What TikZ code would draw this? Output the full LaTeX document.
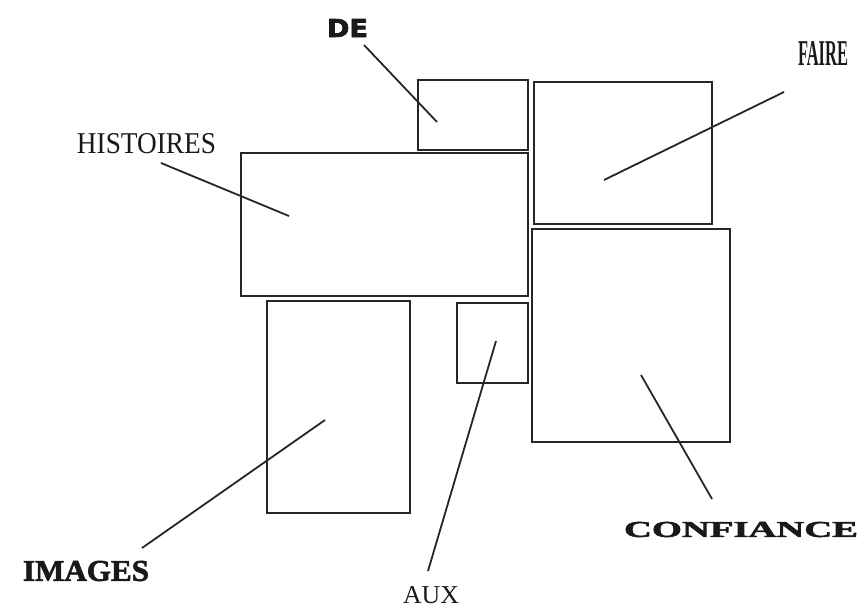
\documentclass[tikz,border=0pt]{standalone}
\usepackage{fontspec}
\setmainfont{Liberation Serif}
\newfontfamily\desans{DejaVu Sans}[BoldFeatures={FakeBold=2.5}]
\newfontfamily\heavyserif{Liberation Serif}[BoldFeatures={FakeBold=2}]
\begin{document}
\begin{tikzpicture}[x=1pt,y=-1pt,
  box/.style={draw=black!85, line width=2pt, inner sep=0pt, minimum width=#1},
  lead/.style={draw=black!85, line width=1.8pt},
  lbl/.style={inner sep=0pt, anchor=center, text=black!90}]
\useasboundingbox (0,0) rectangle (865,608);
% boxes
\node[box=110pt, minimum height=70pt]  (de)   at (473,115) {};
\node[box=178pt, minimum height=142pt] (fa)   at (623,153) {};
\node[box=287pt, minimum height=143pt] (hi)   at (384.5,224.5) {};
\node[box=198pt, minimum height=213pt] (co)   at (631,335.5) {};
\node[box=71pt,  minimum height=80pt]  (au)   at (492.5,343) {};
\node[box=143pt, minimum height=212pt] (im)   at (338.5,407) {};
% labels
\node[lbl] (deL) at (347.5,28)  {\resizebox{41pt}{18pt}{\desans\bfseries DE}};
\node[lbl] (faL) at (823,53)    {\resizebox{50pt}{24pt}{\bfseries FAIRE}};
\node[lbl] (hiL) at (146.5,144) {\resizebox{139pt}{20pt}{HISTOIRES}};
\node[lbl] (coL) at (741,529.5) {\resizebox{234pt}{15pt}{\heavyserif\bfseries CONFIANCE}};
\node[lbl] (imL) at (86,571)    {\resizebox{126pt}{20pt}{\heavyserif\bfseries IMAGES}};
\node[lbl] (auL) at (431,595)   {\resizebox{56pt}{17pt}{AUX}};
% leader end points
\coordinate (deA) at (364,45);   \coordinate (deB) at (437,122);
\coordinate (faA) at (784,92);   \coordinate (faB) at (604,180);
\coordinate (hiA) at (161,163);  \coordinate (hiB) at (289,216);
\coordinate (coA) at (712,499);  \coordinate (coB) at (641,375);
\coordinate (auA) at (428,571);  \coordinate (auB) at (496,341);
\coordinate (imA) at (142,548);  \coordinate (imB) at (325,420);
\draw[lead] (deA) -- (deB);
\draw[lead] (faA) -- (faB);
\draw[lead] (hiA) -- (hiB);
\draw[lead] (coA) -- (coB);
\draw[lead] (auA) -- (auB);
\draw[lead] (imA) -- (imB);
\end{tikzpicture}
\end{document}
